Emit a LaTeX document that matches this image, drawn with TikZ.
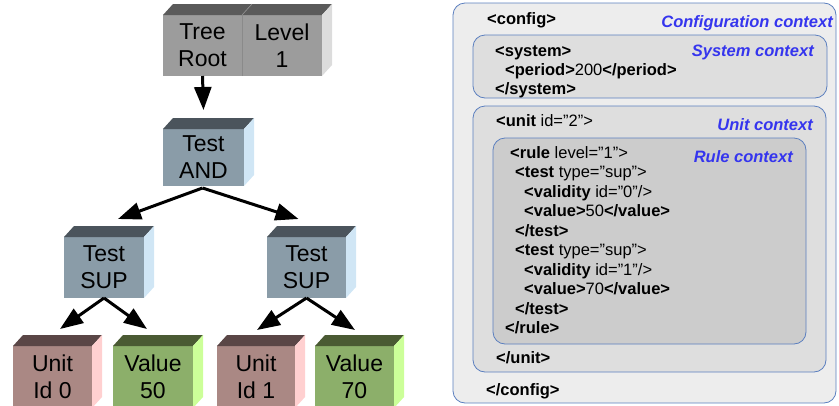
\documentclass[tikz,border=0pt]{standalone}
\usepackage{fontspec}
\setmainfont{Liberation Sans}
\usetikzlibrary{arrows.meta,calc}
\definecolor{rootF}{HTML}{9C9C9C}
\definecolor{rootT}{HTML}{5A5A5A}
\definecolor{rootS}{HTML}{DCDCDC}
\definecolor{rootD}{HTML}{8A8A8A}
\definecolor{testF}{HTML}{8A9CA8}
\definecolor{testT}{HTML}{4B545C}
\definecolor{testS}{HTML}{D0E6F5}
\definecolor{unitF}{HTML}{AA8884}
\definecolor{unitT}{HTML}{5A4646}
\definecolor{unitS}{HTML}{FFD0D0}
\definecolor{valF}{HTML}{8CAF6A}
\definecolor{valT}{HTML}{4A5A33}
\definecolor{valS}{HTML}{CCFF99}
\definecolor{ctxblue}{HTML}{3535EE}
\definecolor{panelB}{HTML}{5B7FBF}
\newcommand{\cubefaces}[3]{%
  \fill[#2] (#1.north west) -- ++(10,-11) -- ($(#1.north east)+(10,-11)$) -- (#1.north east) -- cycle;
  \fill[#3] (#1.north east) -- ++(10,-11) -- ($(#1.south east)+(10,-11)$) -- (#1.south east) -- cycle;
}
\begin{document}
\begin{tikzpicture}[x=1pt,y=-1pt,
  cube/.style={inner sep=0pt, outer sep=0pt, align=center,
    font=\fontsize{23}{27}\selectfont, minimum width=80pt, minimum height=61pt},
  arr/.style={line width=3pt, -{Triangle[length=23pt,width=17pt]}},
  xml/.style={anchor=base west, inner sep=0pt, font=\fontsize{16.5}{19.5}\selectfont},
  ctx/.style={anchor=base east, inner sep=0pt, font=\fontsize{16.5}{19.5}\selectfont\bfseries\itshape, text=ctxblue},
  panel/.style={draw=panelB, line width=0.8pt, rounded corners=12pt}]
\useasboundingbox (0,0) rectangle (839,405);
\clip (0,0) rectangle (839,405);

% ---- tree ----
\node[cube, fill=rootF, minimum width=79pt] (tree) at (202.5,45.5) {Tree\\Root};
\cubefaces{tree}{rootT}{rootS}
\node[cube, fill=rootF, minimum width=80pt] (level) at (282,45.5) {Level\\1};
\cubefaces{level}{rootT}{rootS}
\draw[rootD, line width=0.6pt] (level.north west) -- (level.south west);
\draw[black!45, line width=0.6pt] (level.north west) -- ++(10,-11);

\node[cube, fill=testF, minimum width=81pt, minimum height=57pt] (and) at (203.5,157.5) {Test\\AND};
\cubefaces{and}{testT}{testS}

\node[cube, fill=testF] (supL) at (104,267.5) {Test\\SUP};
\cubefaces{supL}{testT}{testS}
\node[cube, fill=testF, minimum width=79pt] (supR) at (306.5,267.5) {Test\\SUP};
\cubefaces{supR}{testT}{testS}

\node[cube, fill=unitF, minimum width=79pt, minimum height=62pt] (unit0) at (52.5,377) {Unit\\Id 0};
\cubefaces{unit0}{unitT}{unitS}
\node[cube, fill=valF, minimum width=80pt, minimum height=62pt] (val50) at (153,377) {Value\\50};
\cubefaces{val50}{valT}{valS}
\node[cube, fill=unitF, minimum width=78pt, minimum height=62pt] (unit1) at (256,377) {Unit\\Id 1};
\cubefaces{unit1}{unitT}{unitS}
\node[cube, fill=valF, minimum width=79pt, minimum height=62pt] (val70) at (354.5,377) {Value\\70};
\cubefaces{val70}{valT}{valS}

% ---- arrows ----
\draw[arr] (tree.south) -- ($(and.north)+(0,-19)$);
\draw[arr] ($(and.south)+(-1,2)$) -- ($(supL.north)+(14,-18)$);
\draw[arr] ($(and.south)+(-1,2)$) -- ($(supR.north)+(-8,-18)$);
\draw[arr] (supL.south) -- ($(unit0.north)+(7.5,-17)$);
\draw[arr] (supL.south) -- ($(val50.north)+(-6,-17)$);
\draw[arr] (supR.south) -- ($(unit1.north)+(1,-16)$);
\draw[arr] (supR.south) -- ($(val70.north)+(0.5,-16)$);

% ---- XML panel ----
\draw[panel, fill=black!7] (453,3) rectangle (836,403);
\draw[panel, fill=black!13] (473,35) rectangle (827,98);
\draw[panel, fill=black!13] (473,106) rectangle (826,372);
\draw[panel, fill=black!20] (493,138) rectangle (806,344);

\node[xml] (cfg) at (487,24) {\textbf{<config>}};
\node[ctx] (cfgctx) at (833,27) {Configuration context};
\node[xml] (sys) at (495,56) {\textbf{<system>}};
\node[xml] (per) at (505,75) {\textbf{<period>}200\textbf{</period>}};
\node[xml] (sysend) at (495,94) {\textbf{</system>}};
\node[ctx] (sysctx) at (814,56) {System context};
\node[xml] (unit) at (496,126) {\textbf{<unit} id=”2”>};
\node[ctx] (unitctx) at (813,130) {Unit context};
\node[xml] (rule) at (510,158) {\textbf{<rule} level=”1”>};
\node[ctx] (rulectx) at (793,162) {Rule context};
\node[xml] (t1) at (515,177.5) {\textbf{<test} type=”sup”>};
\node[xml] (v1) at (524,197) {\textbf{<validity} id=”0”/>};
\node[xml] (val1) at (524,216.5) {\textbf{<value>}50\textbf{</value>}};
\node[xml] (t1e) at (515,236) {\textbf{</test>}};
\node[xml] (t2) at (515,255.5) {\textbf{<test} type=”sup”>};
\node[xml] (v2) at (524,275) {\textbf{<validity} id=”1”/>};
\node[xml] (val2) at (524,294.5) {\textbf{<value>}70\textbf{</value>}};
\node[xml] (t2e) at (515,314) {\textbf{</test>}};
\node[xml] (rulee) at (505,333.5) {\textbf{</rule>}};
\node[xml] (unite) at (496,363) {\textbf{</unit>}};
\node[xml] (cfge) at (486,395) {\textbf{</config>}};
\end{tikzpicture}
\end{document}
